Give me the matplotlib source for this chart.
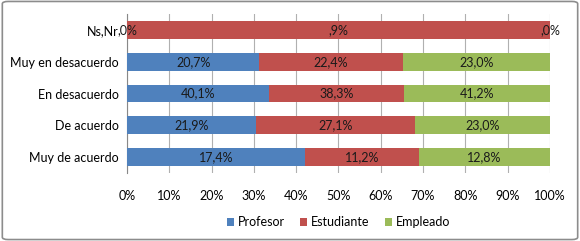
import matplotlib
matplotlib.use("Agg")
import matplotlib.pyplot as plt
from matplotlib.patches import FancyBboxPatch
import numpy as np

categories = ["Muy de acuerdo", "De acuerdo", "En desacuerdo", "Muy en desacuerdo", "Ns,Nr"]
profesor = [17.4, 21.9, 40.1, 20.7, 0.0]
estudiante = [11.2, 27.1, 38.3, 22.4, 0.9]
empleado = [12.8, 23.0, 41.2, 23.0, 0.0]
series_names = ["Profesor", "Estudiante", "Empleado"]
colors = ["#4F81BD", "#C0504D", "#9BBB59"]
xticks = [0, 10, 20, 30, 40, 50, 60, 70, 80, 90, 100]

plt.rcParams['font.family'] = ['Lato', 'DejaVu Sans']

def fmt(v):
    s = f"{v:.1f}".replace(".", ",")
    if s.startswith("0,"):
        s = s[1:]
    return s + "%"

fig = plt.figure(figsize=(5.8, 2.41), dpi=100)
fig.patches.append(FancyBboxPatch((0.004, 0.006), 0.992, 0.988, boxstyle="round,pad=0,rounding_size=0.01",
                                  transform=fig.transFigure, fill=False, edgecolor="#8c8c8c", linewidth=1.2))
ax = fig.add_axes([0.219, 0.282, 0.729, 0.660])

data = np.array([profesor, estudiante, empleado])
totals = data.sum(axis=0)
pct = data / totals * 100
y = np.arange(len(categories))
left = np.zeros(len(categories))
for i in range(3):
    ax.barh(y, pct[i], left=left, height=0.56, color=colors[i], label=series_names[i], zorder=3)
    for j in range(len(categories)):
        ax.text(left[j] + pct[i][j] / 2, y[j], fmt(data[i][j]), ha="center", va="center",
                fontsize=9, color="#1a1a1a", zorder=4)
    left += pct[i]

ax.set_xlim(0, 100)
ax.set_ylim(-0.5, len(categories) - 0.5)
ax.set_xticks(xticks)
ax.set_xticklabels([f"{t}%" for t in xticks], fontsize=9)
ax.set_yticks(y)
ax.set_yticklabels(categories, fontsize=9)
ax.grid(axis="x", color="#b0b0b0", linewidth=0.8, zorder=0)
for s in ["top", "right", "bottom"]:
    ax.spines[s].set_visible(False)
ax.spines["left"].set_color("#888888")
ax.tick_params(axis="both", length=0, pad=6)
ax.tick_params(axis="x", pad=12)

ax.legend(loc="upper center", bbox_to_anchor=(0.5, -0.2), ncol=3, frameon=False, fontsize=9,
          handlelength=0.6, handleheight=0.6, handletextpad=0.3, columnspacing=1.2)

fig.savefig("out.png", dpi=100)
